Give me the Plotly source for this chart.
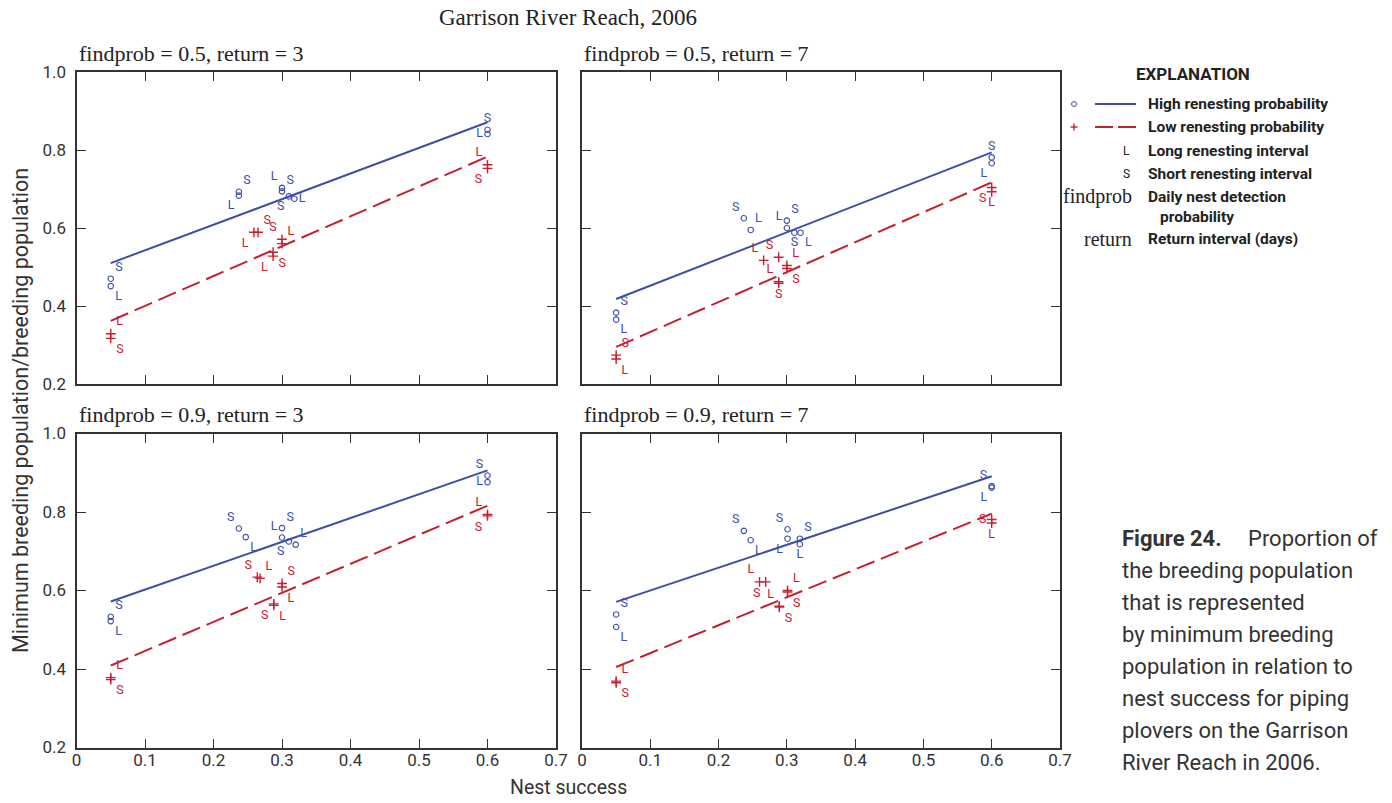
import plotly.graph_objects as go

W, H = 1392, 803

# ---------------- data ----------------
main_title = "Garrison River Reach, 2006"
panel_titles = ["findprob = 0.5, return = 3", "findprob = 0.5, return = 7",
                "findprob = 0.9, return = 3", "findprob = 0.9, return = 7"]
x_tickvals = [0, 0.1, 0.2, 0.3, 0.4, 0.5, 0.6, 0.7]
x_ticktext = ["0", "0.1", "0.2", "0.3", "0.4", "0.5", "0.6", "0.7"]
y_tickvals = [0.2, 0.4, 0.6, 0.8, 1.0]
y_ticktext = ["0.2", "0.4", "0.6", "0.8", "1.0"]
x_title = "Nest success"
y_title = "Minimum breeding population/breeding population"

fit_x = [0.05, 0.6]

# Panel 1: findprob = 0.5, return = 3
p1_hi_x = [0.05, 0.05, 0.237, 0.237, 0.300, 0.300, 0.310, 0.318, 0.600, 0.600]
p1_hi_y = [0.470, 0.451, 0.693, 0.683, 0.703, 0.694, 0.681, 0.675, 0.852, 0.841]
p1_hi_lab = ["S", "L", "S", "L", "L", "S", "S", "L", "S", "L"]
p1_lo_x = [0.05, 0.05, 0.259, 0.265, 0.300, 0.300, 0.287, 0.287, 0.600, 0.600]
p1_lo_y = [0.329, 0.317, 0.589, 0.589, 0.571, 0.560, 0.538, 0.528, 0.762, 0.753]
p1_lo_lab = ["L", "S", "L", "S", "S", "L", "S", "L", "L", "S"]
p1_hi_fit = [0.510, 0.871]
p1_lo_fit = [0.362, 0.783]

# Panel 2: findprob = 0.5, return = 7
p2_hi_x = [0.05, 0.05, 0.237, 0.247, 0.300, 0.300, 0.311, 0.320, 0.600, 0.600]
p2_hi_y = [0.383, 0.365, 0.625, 0.595, 0.619, 0.600, 0.588, 0.588, 0.781, 0.766]
p2_hi_lab = ["S", "L", "S", "L", "S", "L", "S", "L", "S", "L"]
p2_lo_x = [0.05, 0.05, 0.266, 0.288, 0.300, 0.300, 0.288, 0.288, 0.600, 0.600]
p2_lo_y = [0.274, 0.264, 0.517, 0.525, 0.504, 0.496, 0.462, 0.458, 0.704, 0.693]
p2_lo_lab = ["S", "L", "L", "S", "L", "S", "L", "S", "S", "L"]
p2_hi_fit = [0.418, 0.794]
p2_lo_fit = [0.295, 0.717]

# Panel 3: findprob = 0.9, return = 3
p3_hi_x = [0.05, 0.05, 0.237, 0.247, 0.300, 0.300, 0.310, 0.320, 0.600, 0.600]
p3_hi_y = [0.533, 0.522, 0.758, 0.736, 0.759, 0.735, 0.725, 0.717, 0.893, 0.876]
p3_hi_lab = ["S", "L", "S", "L", "S", "L", "S", "L", "S", "L"]
p3_lo_x = [0.05, 0.05, 0.264, 0.268, 0.300, 0.300, 0.288, 0.288, 0.600, 0.600]
p3_lo_y = [0.378, 0.373, 0.634, 0.631, 0.618, 0.609, 0.566, 0.562, 0.794, 0.790]
p3_lo_lab = ["L", "S", "S", "L", "S", "L", "S", "L", "L", "S"]
p3_hi_fit = [0.572, 0.906]
p3_lo_fit = [0.409, 0.816]

# Panel 4: findprob = 0.9, return = 7
p4_hi_x = [0.05, 0.05, 0.237, 0.247, 0.301, 0.301, 0.319, 0.319, 0.600, 0.600]
p4_hi_y = [0.539, 0.507, 0.752, 0.728, 0.756, 0.732, 0.732, 0.718, 0.866, 0.862]
p4_hi_lab = ["S", "L", "S", "L", "S", "L", "S", "L", "S", "L"]
p4_lo_x = [0.05, 0.05, 0.260, 0.269, 0.301, 0.301, 0.289, 0.289, 0.600, 0.600]
p4_lo_y = [0.369, 0.365, 0.622, 0.622, 0.600, 0.596, 0.560, 0.558, 0.781, 0.772]
p4_lo_lab = ["L", "S", "L", "S", "L", "S", "L", "S", "S", "L"]
p4_hi_fit = [0.571, 0.891]
p4_lo_fit = [0.405, 0.796]

legend_title = "EXPLANATION"
legend_rows = ["High renesting probability", "Low renesting probability",
               "Long renesting interval", "Short renesting interval",
               "Daily nest detection", "probability", "Return interval (days)"]
legend_keys = ["L", "S", "findprob", "return"]

caption_head = "Figure 24."
caption_lines = ["Proportion of", "the breeding population", "that is represented",
                 "by minimum breeding", "population in relation to",
                 "nest success for piping", "plovers on the Garrison",
                 "River Reach in 2006."]

# ---------------- styles (label placement) ----------------
p1_hi_pos = ["top right", "bottom right", "top right", "bottom left", "top left",
             "top right", "bottom left", "middle right", "top center", "middle left"]
p1_lo_pos = ["top right", "bottom right", "bottom left", "top right", "top left",
             "top right", "bottom right", "bottom left", "top left", "bottom left"]
p2_hi_pos = ["top right", "bottom right", "top left", "top right", "top right",
             "top left", "bottom center", "bottom right", "top center", "bottom left"]
p2_lo_pos = ["top right", "bottom right", "top left", "top left", "top right",
             "bottom right", "top left", "bottom center", "bottom left", "bottom center"]
p3_hi_pos = ["top right", "bottom right", "top left", "bottom right", "top right",
             "top left", "bottom left", "top right", "top left", "middle left"]
p3_lo_pos = ["top right", "bottom right", "top left", "top right", "top right",
             "bottom right", "bottom left", "bottom right", "top left", "bottom left"]
p4_hi_pos = ["top right", "bottom right", "top left", "bottom right", "top left",
             "bottom left", "top right", "bottom center", "top left", "bottom left"]
p4_lo_pos = ["top right", "bottom right", "top left", "bottom left", "top right",
             "bottom right", "top left", "bottom right", "middle left", "bottom center"]

BLUE = "rgb(62,78,168)"
RED = "rgb(198,32,48)"
FRAME = "#333333"
SANS = "Roboto, Liberation Sans, sans-serif"
SERIF = "Liberation Serif, Times New Roman, serif"

panels = [
    dict(hx=p1_hi_x, hy=p1_hi_y, hl=p1_hi_lab, hp=p1_hi_pos, lx=p1_lo_x, ly=p1_lo_y,
         ll=p1_lo_lab, lp=p1_lo_pos, hf=p1_hi_fit, lf=p1_lo_fit),
    dict(hx=p2_hi_x, hy=p2_hi_y, hl=p2_hi_lab, hp=p2_hi_pos, lx=p2_lo_x, ly=p2_lo_y,
         ll=p2_lo_lab, lp=p2_lo_pos, hf=p2_hi_fit, lf=p2_lo_fit),
    dict(hx=p3_hi_x, hy=p3_hi_y, hl=p3_hi_lab, hp=p3_hi_pos, lx=p3_lo_x, ly=p3_lo_y,
         ll=p3_lo_lab, lp=p3_lo_pos, hf=p3_hi_fit, lf=p3_lo_fit),
    dict(hx=p4_hi_x, hy=p4_hi_y, hl=p4_hi_lab, hp=p4_hi_pos, lx=p4_lo_x, ly=p4_lo_y,
         ll=p4_lo_lab, lp=p4_lo_pos, hf=p4_hi_fit, lf=p4_lo_fit),
]

# pixel boxes for the panels (left, right, top, bottom)
boxes = [(76.5, 556, 72, 384), (582, 1060, 72, 384),
         (76.5, 556, 433.5, 747.5), (582, 1060, 433.5, 747.5)]


def fx(px):
    return px / W


def fy(py):
    return 1 - py / H


fig = go.Figure()
layout = dict(width=W, height=H, margin=dict(l=0, r=0, t=0, b=0, autoexpand=False),
              template="none",
              paper_bgcolor="white", plot_bgcolor="white", showlegend=False,
              annotations=[], shapes=[])

for i, (p, box) in enumerate(zip(panels, boxes)):
    n = i + 1
    xa = "x" if n == 1 else f"x{n}"
    ya = "y" if n == 1 else f"y{n}"
    fig.add_trace(go.Scatter(x=fit_x, y=p["hf"], mode="lines", xaxis=xa, yaxis=ya,
                             line=dict(color=BLUE, width=2), hoverinfo="skip"))
    fig.add_trace(go.Scatter(x=fit_x, y=p["lf"], mode="lines", xaxis=xa, yaxis=ya,
                             line=dict(color=RED, width=2, dash="19px,7px"), hoverinfo="skip"))
    fig.add_trace(go.Scatter(x=p["hx"], y=p["hy"], text=p["hl"], textposition=p["hp"],
                             mode="markers+text", xaxis=xa, yaxis=ya, cliponaxis=False,
                             marker=dict(symbol="circle-open", size=5.5, color=BLUE,
                                         line=dict(width=1.1, color=BLUE)),
                             textfont=dict(family=SANS, size=12.5, color=BLUE)))
    fig.add_trace(go.Scatter(x=p["lx"], y=p["ly"], text=p["ll"], textposition=p["lp"],
                             mode="markers+text", xaxis=xa, yaxis=ya, cliponaxis=False,
                             marker=dict(symbol="cross-thin", size=7, color=RED,
                                         line=dict(width=1.4, color=RED)),
                             textfont=dict(family=SANS, size=12.5, color=RED)))
    l, r, t, b = box
    bottom_row = n in (3, 4)
    left_col = n in (1, 3)
    xkey = "xaxis" if n == 1 else f"xaxis{n}"
    ykey = "yaxis" if n == 1 else f"yaxis{n}"
    layout[xkey] = dict(domain=[fx(l), fx(r)], range=[0, 0.7], anchor=ya,
                        automargin=False, ticklabelstandoff=-4,
                        tickvals=x_tickvals, ticktext=x_ticktext,
                        showticklabels=bottom_row, ticks="inside", ticklen=9,
                        tickwidth=1.3, tickcolor=FRAME, showline=True, linewidth=2,
                        linecolor=FRAME, mirror="ticks", showgrid=False, zeroline=False,
                        tickfont=dict(family=SANS, size=17, color="#333"))
    layout[ykey] = dict(domain=[fy(b), fy(t)], range=[0.2, 1.0], anchor=xa,
                        automargin=False, ticklabelstandoff=5,
                        tickvals=y_tickvals, ticktext=y_ticktext,
                        showticklabels=left_col, ticks="inside", ticklen=9,
                        tickwidth=1.3, tickcolor=FRAME, showline=True, linewidth=2,
                        linecolor=FRAME, mirror="ticks", showgrid=False, zeroline=False,
                        tickfont=dict(family=SANS, size=17, color="#333"))
    layout["annotations"].append(dict(text=panel_titles[i], xref="paper", yref="paper",
                                      x=fx(l), y=fy(t - 19), xanchor="left", yanchor="middle",
                                      showarrow=False,
                                      font=dict(family=SERIF, size=22, color="#222")))

ann = layout["annotations"]
ann.append(dict(text=main_title, xref="paper", yref="paper", x=fx(568), y=fy(18),
                xanchor="center", yanchor="middle", showarrow=False,
                font=dict(family=SERIF, size=23, color="#222")))
ann.append(dict(text=x_title, xref="paper", yref="paper", x=fx(568), y=fy(787),
                xanchor="center", yanchor="middle", showarrow=False,
                font=dict(family=SANS, size=19.5, color="#333")))
ann.append(dict(text=y_title, xref="paper", yref="paper", x=fx(20), y=fy(411),
                xanchor="center", yanchor="middle", textangle=-90, showarrow=False,
                font=dict(family=SANS, size=21.5, color="#333")))

# legend (explanation)
ann.append(dict(text="<b>" + legend_title + "</b>", xref="paper", yref="paper",
                x=fx(1134), y=fy(74), xanchor="left", yanchor="middle", showarrow=False,
                font=dict(family=SANS, size=17, color="#222")))
row_y = [104, 127, 151, 174, 197, 217, 239]
row_x = [1146, 1146, 1146, 1146, 1146, 1158, 1146]
for txt, yy, xx in zip(legend_rows, row_y, row_x):
    ann.append(dict(text="<b>" + txt + "</b>", xref="paper", yref="paper",
                    x=fx(xx), y=fy(yy), xanchor="left", yanchor="middle", showarrow=False,
                    font=dict(family=SANS, size=15.5, color="#222")))
ann.append(dict(text=legend_keys[0], xref="paper", yref="paper", x=fx(1126), y=fy(151),
                xanchor="center", yanchor="middle", showarrow=False,
                font=dict(family=SANS, size=12, color="#222")))
ann.append(dict(text=legend_keys[1], xref="paper", yref="paper", x=fx(1126), y=fy(174),
                xanchor="center", yanchor="middle", showarrow=False,
                font=dict(family=SANS, size=12, color="#222")))
ann.append(dict(text=legend_keys[2], xref="paper", yref="paper", x=fx(1134), y=fy(197),
                xanchor="right", yanchor="middle", showarrow=False,
                font=dict(family=SERIF, size=20, color="#222")))
ann.append(dict(text=legend_keys[3], xref="paper", yref="paper", x=fx(1134), y=fy(239),
                xanchor="right", yanchor="middle", showarrow=False,
                font=dict(family=SERIF, size=20, color="#222")))

shp = layout["shapes"]
shp.append(dict(type="circle", xref="paper", yref="paper", x0=fx(1071.5), x1=fx(1076.5),
                y0=fy(106.5), y1=fy(101.5), line=dict(color=BLUE, width=1)))
shp.append(dict(type="line", xref="paper", yref="paper", x0=fx(1095), x1=fx(1136),
                y0=fy(104), y1=fy(104), line=dict(color=BLUE, width=2)))
shp.append(dict(type="line", xref="paper", yref="paper", x0=fx(1070.5), x1=fx(1077.5),
                y0=fy(127), y1=fy(127), line=dict(color=RED, width=1.4)))
shp.append(dict(type="line", xref="paper", yref="paper", x0=fx(1074), x1=fx(1074),
                y0=fy(123.5), y1=fy(130.5), line=dict(color=RED, width=1.4)))
shp.append(dict(type="line", xref="paper", yref="paper", x0=fx(1095), x1=fx(1136),
                y0=fy(127), y1=fy(127), line=dict(color=RED, width=2, dash="18px,5px")))

# caption
ann.append(dict(text="<b>" + caption_head + "</b>", xref="paper", yref="paper",
                x=fx(1120), y=fy(538), xanchor="left", yanchor="middle", showarrow=False,
                font=dict(family=SANS, size=22, color="#333")))
cap_y = [538, 570, 602, 634, 666, 698, 730, 762]
for k, (txt, yy) in enumerate(zip(caption_lines, cap_y)):
    ann.append(dict(text=txt, xref="paper", yref="paper",
                    x=fx(1246 if k == 0 else 1120), y=fy(yy), xanchor="left",
                    yanchor="middle", showarrow=False,
                    font=dict(family=SANS, size=22, color="#333")))

fig.update_layout(**layout)
fig.write_html("out.html")
